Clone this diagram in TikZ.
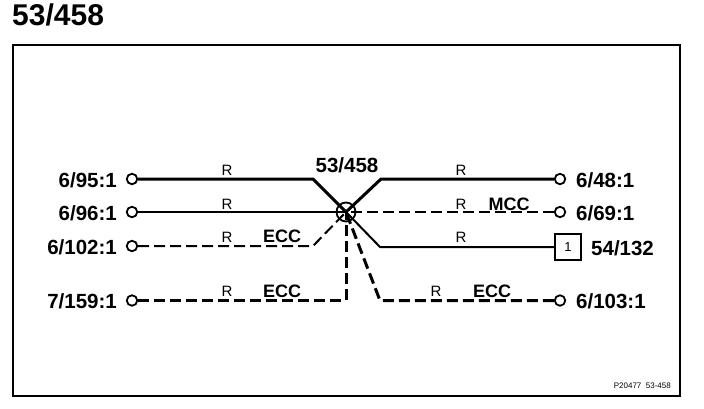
\documentclass[tikz,border=0pt]{standalone}
\usepackage{fontspec}
\setmainfont{Liberation Sans}
\begin{document}
\begin{tikzpicture}[x=1pt,y=-1pt,
    pin/.style ={circle, draw, fill=white, inner sep=0pt, minimum size=10.5pt, line width=1.8pt},
    hub/.style ={circle, draw, inner sep=0pt, minimum size=19pt, line width=1.8pt},
    endbox/.style ={rectangle, draw, fill=white, line width=1.6pt, inner sep=0pt, minimum size=26pt, font=\fontsize{13}{13}\selectfont},
    heavy/.style ={line width=3pt},
    light/.style ={line width=2pt},
    dashes/.style ={dash pattern=on 11pt off 5pt},
    pinlabel/.style ={font=\fontsize{20.5}{21}\bfseries\selectfont, inner sep=0pt},
    wirelabel/.style ={font=\fontsize{15}{15}\selectfont, inner sep=0pt},
    netlabel/.style ={font=\fontsize{18}{18}\bfseries\selectfont, inner sep=0pt}]
   \useasboundingbox (0,0) rectangle (704,408);
   \node[pinlabel, font=\fontsize{30}{30}\bfseries\selectfont, anchor=west] (title) at (12,15) {53/458};
   \draw[line width=2.4pt] (13,45) rectangle (680,396);

   \node[hub] (J) at (346,212) {};
   \node[pin] (A) at (132,179) {};
   \node[pin] (B) at (132,212) {};
   \node[pin] (C) at (132,246) {};
   \node[pin] (D) at (132,300.5) {};
   \node[pin] (E) at (560,179) {};
   \node[pin] (F) at (560,212) {};
   \node[pin] (G) at (560,300.5) {};
   \node[endbox] (H) at (568,247) {1};
   \coordinate (a) at (313,179);
   \coordinate (c) at (313,246);
   \coordinate (d) at (346,300.5);
   \coordinate (e) at (381,179);
   \coordinate (g) at (380,300.5);
   \coordinate (h) at (380,247);

   \draw[heavy] (A) -- (a) -- (J.center);
   \draw[light] (B) -- (J.center);
   \draw[light, dashes] (C) -- (c) -- (J.center);
   \draw[heavy, dashes] (D) -- (d) -- (J.center);
   \draw[heavy] (E) -- (e) -- (J.center);
   \draw[light, dashes] (F) -- (J.center);
   \draw[light] (H) -- (h) -- (J.center);
   \draw[heavy, dashes] (G) -- (g) -- (J.center);

   \node[pinlabel, anchor=east] (la) at (117,180) {6/95:1};
   \node[pinlabel, anchor=east] (lb) at (117,213) {6/96:1};
   \node[pinlabel, anchor=east] (lc) at (117,247) {6/102:1};
   \node[pinlabel, anchor=east] (ld) at (117,301) {7/159:1};
   \node[pinlabel, anchor=west] (le) at (576,180) {6/48:1};
   \node[pinlabel, anchor=west] (lf) at (576,213) {6/69:1};
   \node[pinlabel, anchor=west] (lh) at (591,248) {54/132};
   \node[pinlabel, anchor=west] (lg) at (576,301) {6/103:1};
   \node[pinlabel] (lj) at (347,165) {53/458};

   \node[wirelabel] at (227,170) {R};
   \node[wirelabel] at (227,204) {R};
   \node[wirelabel] at (227,237) {R};
   \node[wirelabel] at (227,291) {R};
   \node[wirelabel] at (461,170) {R};
   \node[wirelabel] at (461,204) {R};
   \node[wirelabel] at (461,237) {R};
   \node[wirelabel] at (436,291) {R};

   \node[netlabel] at (282,236) {ECC};
   \node[netlabel] at (282,291) {ECC};
   \node[netlabel] at (509,204) {MCC};
   \node[netlabel] at (492,291) {ECC};
   \node[font=\fontsize{8}{8}\selectfont, inner sep=0pt, anchor=east] (ref) at (671,386) {P20477\ \ 53-458};
 \end{tikzpicture}
\end{document}
